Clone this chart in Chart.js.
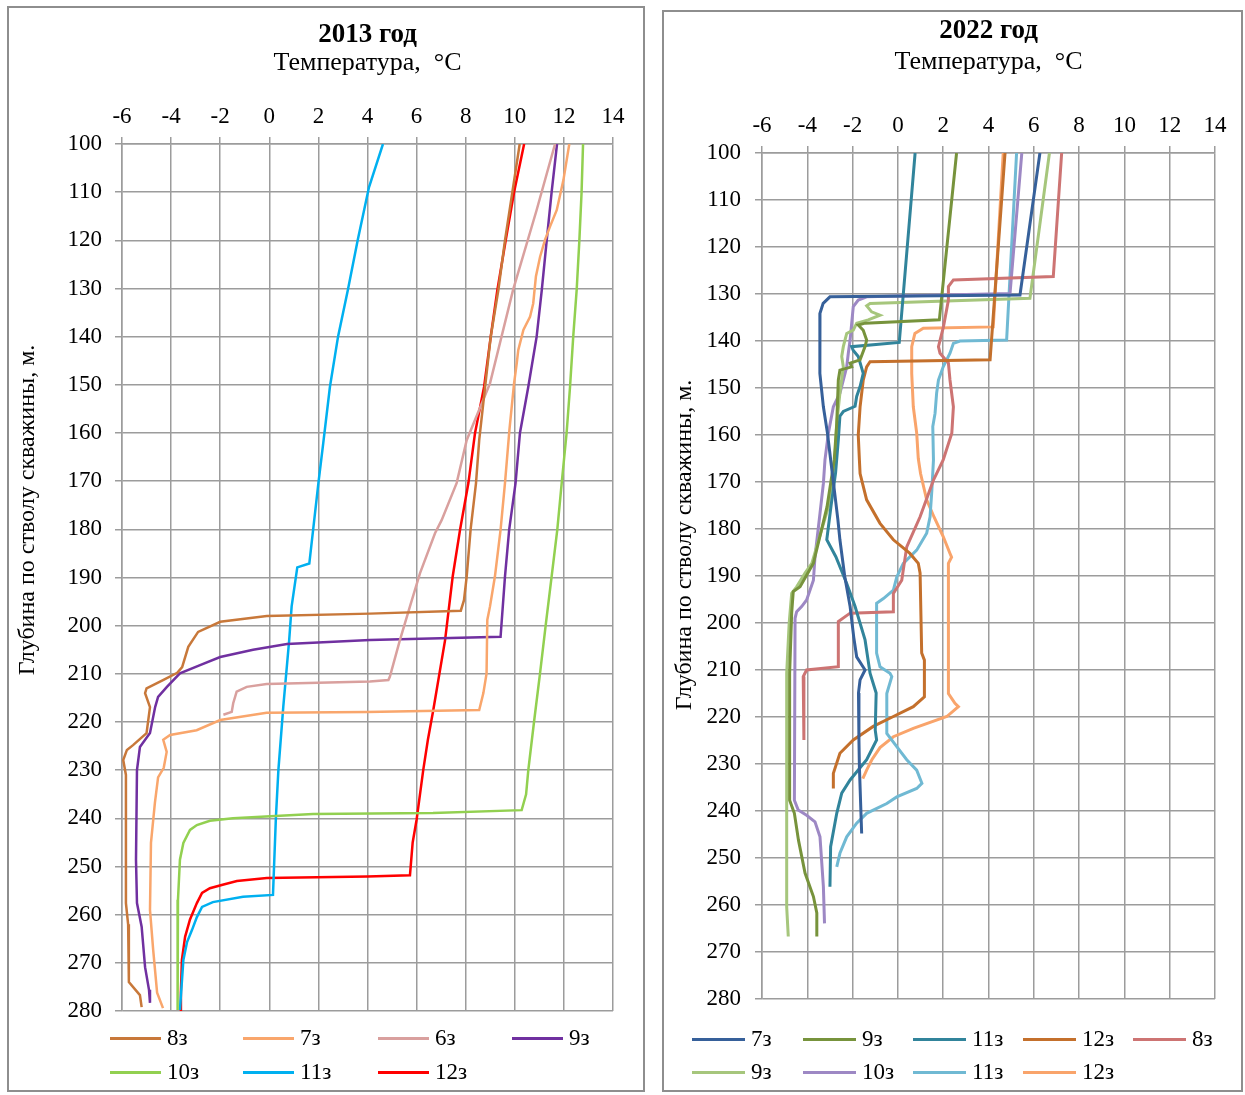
<!DOCTYPE html>
<html>
<head>
<meta charset="utf-8">
<script src="https://cdn.jsdelivr.net/npm/chart.js"></script>
<style>
  body { margin: 0; background: #fff; width: 1245px; height: 1095px; position: relative; overflow: hidden; font-family: "Liberation Serif", serif; }
  .panel { position: absolute; border: 2px solid #8e8e8e; box-sizing: border-box; }
  .panel canvas { position: absolute; left: 0; top: 0; }
  .leg { position: absolute; display: flex; align-items: center; white-space: nowrap; font-size: 23px; color: #000; height: 26px; }
  .leg span.sw { display: inline-block; height: 3px; margin-right: 6px; }
</style>
</head>
<body>
<div class="panel" style="left:7px;top:6px;width:638px;height:1086px;"><canvas id="c2013" width="634" height="1082"></canvas></div>
<div class="panel" style="left:662px;top:10px;width:581px;height:1082px;"><canvas id="c2022" width="577" height="1078"></canvas></div>
<script>
// каждая скважина: [температура, глубина]
// 2013 год
const names2013 = ['8з', '7з', '6з', '9з', '10з', '11з', '12з'];
const w8_13 = [[10.2,100],[9.9,110],[9.6,120],[9.33,130.3],[9.02,140],[8.79,150.4],[8.55,161.5],[8.42,170.4],[8.2,180],[8.04,189.8],[7.93,194.7],[7.8,196.9],[4.1,197.5],[-0.1,198],[-2.0,199.2],[-2.9,201.3],[-3.3,204.4],[-3.55,208.6],[-3.75,209.8],[-4.33,211.3],[-5.0,213],[-5.06,214],[-4.86,216.9],[-5.0,222.3],[-5.55,224.8],[-5.8,225.8],[-5.95,227.9],[-5.84,231],[-5.84,257.6],[-5.75,262],[-5.72,274],[-5.27,276.7],[-5.2,279.2]];
const w7_13 = [[12.22,100],[11.98,107.5],[11.71,113.7],[11.43,117.2],[11.23,119.9],[11.03,123.4],[10.86,127.5],[10.75,133.1],[10.62,135.9],[10.35,138.6],[10.14,142.8],[10.08,145.5],[9.97,149.7],[9.78,159.4],[9.6,170.4],[9.42,180.1],[9.19,189.8],[8.99,196],[8.88,198.8],[8.85,209.9],[8.72,214],[8.55,217.5],[3.97,217.9],[-0.11,218.1],[-2.0,219.6],[-2.96,221.7],[-4.04,222.7],[-4.32,223.7],[-4.18,226.2],[-4.3,229.5],[-4.53,231.5],[-4.66,236.8],[-4.82,245.1],[-4.86,259],[-4.73,267.3],[-4.57,276.2],[-4.33,279.4]];
const w6_13 = [[11.64,100],[10.89,113.7],[9.93,130.3],[8.99,149.7],[8.04,161.5],[7.63,170.4],[7.02,178.1],[6.75,180.8],[6.14,189.1],[5.73,196],[5.32,203],[4.91,210.6],[4.85,211.3],[4.1,211.6],[-0.11,212.1],[-0.92,212.7],[-1.33,213.7],[-1.47,216.1],[-1.53,217.9],[-1.87,218.5]];
const w9_13 = [[11.72,100],[11.5,110],[11.3,120],[11.1,130.3],[10.89,140],[10.55,150.4],[10.21,160],[10.03,170.4],[9.77,180.1],[9.6,189.8],[9.42,202.3],[4.1,203],[0.72,203.8],[-0.66,205],[-2.0,206.5],[-2.82,208.2],[-3.64,209.9],[-4.17,212.7],[-4.53,214.8],[-4.65,216.9],[-4.86,222.3],[-5.27,225.2],[-5.39,230],[-5.43,248.6],[-5.39,257.6],[-5.2,262.5],[-5.06,270.9],[-4.9,275.6],[-4.86,278.3]];
const w10_13 = [[12.78,100],[12.72,110],[12.63,120],[12.52,130.3],[12.38,140],[12.25,150.4],[12.11,160],[11.91,170.4],[11.73,180.1],[11.5,189.8],[11.27,199.4],[11.03,209.8],[10.78,220.1],[10.55,230],[10.46,235],[10.28,238.3],[6.67,238.9],[1.78,239.1],[-1.48,240],[-2.42,240.5],[-2.95,241.4],[-3.23,242.4],[-3.5,245.1],[-3.64,248.6],[-3.72,256.9],[-3.75,269.4],[-3.72,279.8]];
const w11_13 = [[4.63,100],[4.06,109],[3.6,120],[3.2,130.3],[2.8,140],[2.47,150.4],[2.2,162],[2.0,170.4],[1.63,187.1],[1.14,187.9],[0.91,196],[0.81,203],[0.57,216.8],[0.37,230],[0.27,239.7],[0.15,255.9],[-1.07,256.3],[-2.3,257.4],[-2.74,258.4],[-2.95,260.5],[-3.15,263.2],[-3.35,265.7],[-3.5,269.4],[-3.64,279.8]];
const w12_13 = [[10.38,100],[9.97,110],[9.63,120],[9.29,130.3],[9.02,140],[8.75,150.4],[8.38,160],[8.11,170.4],[7.77,180.1],[7.47,189.8],[7.16,203],[6.68,217.5],[6.46,223.7],[6.27,230],[6.0,240.3],[5.84,245],[5.73,251.8],[4.0,252.1],[-0.1,252.4],[-1.32,253],[-1.9,253.8],[-2.42,254.5],[-2.74,255.5],[-2.95,257.6],[-3.23,261],[-3.43,264.6],[-3.56,269.4],[-3.6,276],[-3.6,280]];

// 2022 год
const names2022 = ['7з', '9з', '11з', '12з', '8з', '9з', '10з', '11з', '12з'];
const w7_22 = [[6.27,100],[5.39,130.2],[-3.0,130.6],[-3.3,132],[-3.44,134.1],[-3.45,139.8],[-3.44,146.9],[-3.29,154],[-3.11,159.6],[-2.95,166],[-2.8,172],[-2.65,178],[-2.56,182.3],[-2.35,190],[-2.11,196.5],[-1.95,203],[-1.82,207.2],[-1.45,210],[-1.67,212.1],[-1.74,214.9],[-1.72,225],[-1.7,230.6],[-1.6,244.8]];
const w9_22 = [[2.59,100],[1.83,135.5],[-1.45,136.2],[-1.75,136.6],[-1.53,137.7],[-1.38,139.8],[-1.45,141.2],[-1.67,144],[-2.11,144.7],[-2.04,145.5],[-2.56,146.2],[-2.63,148.3],[-2.7,157.5],[-2.81,165.3],[-3.13,175.3],[-3.73,187.3],[-4.32,192.3],[-4.62,193.3],[-4.69,197.9],[-4.78,210.7],[-4.78,237.7],[-4.57,240.5],[-4.39,246.2],[-4.1,253.2],[-3.73,258.2],[-3.58,261.7],[-3.58,266.7]];
const w11_22 = [[0.76,100],[0.06,140.3],[-2.04,141.2],[-1.97,142],[-1.75,143.3],[-1.53,146.9],[-1.67,149.7],[-1.82,151.8],[-1.89,153.9],[-2.41,155],[-2.56,156],[-2.63,161],[-2.75,168],[-2.95,175],[-3.14,182.3],[-2.74,185.9],[-2.26,191.6],[-1.89,196.5],[-1.45,203.6],[-1.23,210.7],[-0.96,214.9],[-1.0,222.8],[-0.94,224.9],[-1.38,229.1],[-2.11,233.4],[-2.48,236.2],[-2.7,240.5],[-2.97,247.6],[-3.0,256.1]];
const w12_22 = [[4.73,100],[4.07,144],[-1.23,144.4],[-1.38,145.5],[-1.53,148.3],[-1.67,154],[-1.75,160],[-1.7,165.3],[-1.67,168.2],[-1.38,173.8],[-0.79,178.8],[-0.2,182.3],[0.53,185.2],[0.9,187.3],[0.98,189.4],[1.05,206.4],[1.17,207.9],[1.17,215.7],[0.68,217.8],[-0.2,219.9],[-1.09,222],[-1.97,224.9],[-2.56,227.7],[-2.85,232],[-2.85,235.2]];
const w8_22 = [[7.23,100],[6.86,126.3],[2.45,127],[2.23,128.4],[2.23,131.3],[2.01,137],[1.79,141.2],[1.86,142.6],[2.23,144.7],[2.3,148.3],[2.45,154],[2.38,159.6],[2.0,165.3],[1.57,169.6],[0.98,177.4],[0.39,183.8],[0.17,190.9],[-0.2,193.7],[-0.2,197.6],[-2.11,197.9],[-2.63,199.7],[-2.63,209.3],[-4.03,210],[-4.18,211.4],[-4.15,224.9]];
const w9b_22 = [[6.69,100],[5.83,130.9],[-1.23,132],[-1.38,132.5],[-1.16,133.8],[-0.79,134.5],[-1.31,135.5],[-1.82,136.2],[-1.97,137.7],[-2.26,138.4],[-2.41,141.2],[-2.48,143.3],[-2.41,145.5],[-2.56,151.1],[-2.7,157.5],[-2.78,165],[-3.07,175.3],[-3.8,187.3],[-4.1,189.4],[-4.47,192.3],[-4.69,193.7],[-4.8,200],[-4.91,210.7],[-4.91,260.4],[-4.84,266.7]];
const w10_22 = [[5.47,100],[4.95,129.9],[-1.38,130.6],[-1.75,131.3],[-1.97,132.7],[-2.04,136.2],[-2.11,139.8],[-2.19,142.6],[-2.26,145.5],[-2.56,151.1],[-2.85,154],[-3.07,159.6],[-3.22,165.3],[-3.29,170.3],[-3.44,176.7],[-3.66,185.9],[-3.73,190.9],[-4.03,195.1],[-4.25,196.5],[-4.47,197.6],[-4.54,199],[-4.57,237.7],[-4.4,239.8],[-4.03,240.9],[-3.66,242.3],[-3.44,245.5],[-3.37,250.4],[-3.29,256.1],[-3.24,263.9]];
const w11b_22 = [[5.24,100],[4.8,139.8],[2.74,140],[2.45,140.5],[2.3,142.6],[2.0,145.5],[1.79,148.3],[1.71,151.1],[1.64,155.4],[1.54,158.2],[1.57,165.3],[1.5,171.7],[1.42,177.4],[1.27,180.9],[0.83,184.5],[0.24,187.3],[-0.05,190.2],[-0.2,193],[-0.64,194.8],[-0.94,195.8],[-0.94,206.4],[-0.79,209.3],[-0.35,210.7],[-0.27,211.4],[-0.49,215],[-0.49,223.5],[-0.05,226.3],[0.39,229.1],[0.83,231.3],[1.06,234.1],[0.83,235.2],[-0.05,237],[-0.49,238.4],[-1.38,240.5],[-1.82,242.6],[-2.26,245.5],[-2.56,249],[-2.7,251.9]];
const w12b_22 = [[4.65,100],[4.21,137],[1.12,137.3],[0.75,138.4],[0.61,141.2],[0.61,146.9],[0.68,154],[0.83,159.6],[0.9,165],[1.0,168.2],[1.27,173.8],[1.6,177.5],[2.0,181.6],[2.3,185.2],[2.37,186],[2.23,187.3],[2.23,215],[2.52,217.1],[2.67,217.8],[2.16,219.9],[0.68,222.4],[-0.2,224.2],[-0.79,226.5],[-1.15,229.1],[-1.38,231.3],[-1.55,233.1]];

// ось
const tempTicks = [-6, -4, -2, 0, 2, 4, 6, 8, 10, 12, 14];
const depthTicks = [100, 110, 120, 130, 140, 150, 160, 170, 180, 190, 200, 210, 220, 230, 240, 250, 260, 270, 280];

const series2013 = [w8_13, w7_13, w6_13, w9_13, w10_13, w11_13, w12_13];
const colors2013 = ['#C8783A', '#F9A66C', '#D9A09E', '#7030A0', '#92D050', '#00B0F0', '#FF0000'];
const series2022 = [w7_22, w9_22, w11_22, w12_22, w8_22, w9b_22, w10_22, w11b_22, w12b_22];
const colors2022 = ['#36609A', '#77933C', '#31849B', '#C4702C', '#CD7473', '#A6C67C', '#9D88C4', '#70B9D3', '#F9A46B'];

Chart.defaults.color = '#000';
Chart.defaults.font.family = '"Liberation Serif", "Times New Roman", serif';

// подпись оси глубин
const yTitlePlugin = {
  id: 'yTitle',
  afterDraw(chart, args, opts) {
    const c = chart.ctx;
    c.save();
    c.translate(opts.x, opts.y);
    c.rotate(-Math.PI / 2);
    c.font = opts.size + 'px "Liberation Serif", serif';
    c.fillStyle = '#000';
    c.textAlign = 'center';
    c.textBaseline = 'middle';
    c.fillText(opts.text, 0, 0);
    c.restore();
  }
};

function makeChart(id, year, series, names, colors, lay) {
  const datasets = series.map((s, i) => ({
    label: names[i],
    data: s.map(p => ({ x: p[0], y: p[1] })),
    borderColor: colors[i],
    backgroundColor: colors[i],
    borderWidth: lay.lw,
    showLine: true,
    pointRadius: 0,
    tension: 0
  }));
  return new Chart(document.getElementById(id), {
    type: 'scatter',
    data: { datasets },
    plugins: [yTitlePlugin],
    options: {
      responsive: false,
      animation: false,
      layout: { padding: { top: lay.padTop, left: 0, right: lay.padRight, bottom: lay.padBottom } },
      plugins: {
        legend: { display: false },
        tooltip: { enabled: false },
        title: { display: true, text: year + ' год', fullSize: false, font: { size: 27, weight: 'bold', lineHeight: 1 }, padding: { top: 0, bottom: lay.titleGap } },
        subtitle: { display: true, text: 'Температура,  °C', fullSize: false, font: { size: 26, lineHeight: 1 }, padding: { top: 0, bottom: 0 } },
        yTitle: { text: 'Глубина по стволу скважины, м.', x: lay.yTitleX, y: lay.yTitleY, size: 24 }
      },
      scales: {
        x: {
          type: 'linear', position: 'top', min: -6, max: 14,
          afterBuildTicks: s => { s.ticks = tempTicks.map(v => ({ value: v })); },
          afterFit: s => { s.height = lay.xH; },
          ticks: { font: { size: 23 }, padding: 6, color: '#000' },
          grid: { color: '#9c9c9c', lineWidth: 1.5, tickLength: 7 },
          border: { color: '#9c9c9c', width: 1.5 }
        },
        y: {
          type: 'linear', reverse: true, min: 100, max: 280,
          afterBuildTicks: s => { s.ticks = depthTicks.map(v => ({ value: v })); },
          afterFit: s => { s.width = lay.yW; },
          ticks: { font: { size: 23 }, padding: lay.yPad, color: '#000' },
          grid: { color: '#9c9c9c', lineWidth: 1.5, tickLength: 7 },
          border: { color: '#9c9c9c', width: 1.5 }
        }
      }
    }
  });
}

makeChart('c2013', '2013', series2013, names2013, colors2013,
  { padTop: 13.5, padRight: 30, padBottom: 79, titleGap: 1.5, xH: 68, yW: 113, yPad: 13, yTitleX: 19, yTitleY: 502, lw: 2.5 });
makeChart('c2022', '2022', series2022, names2022, colors2022,
  { padTop: 5.5, padRight: 26, padBottom: 91, titleGap: 4.5, xH: 78, yW: 98, yPad: 14, yTitleX: 21, yTitleY: 533, lw: 3 });

// легенды
function legend(names, colors, cols, rows, perRow, sw) {
  names.forEach((n, i) => {
    const r = Math.floor(i / perRow), c = i % perRow;
    const el = document.createElement('div');
    el.className = 'leg';
    el.style.left = cols[c] + 'px';
    el.style.top = (rows[r] - 13) + 'px';
    el.innerHTML = '<span class="sw" style="width:' + sw + 'px;background:' + colors[i] + '"></span>' + n;
    document.body.appendChild(el);
  });
}
legend(names2013, colors2013, [110, 243, 378, 512], [1038, 1072], 4, 51);
legend(names2022, colors2022, [692, 803, 913, 1023, 1133], [1039, 1072], 5, 53);
</script>
</body>
</html>
